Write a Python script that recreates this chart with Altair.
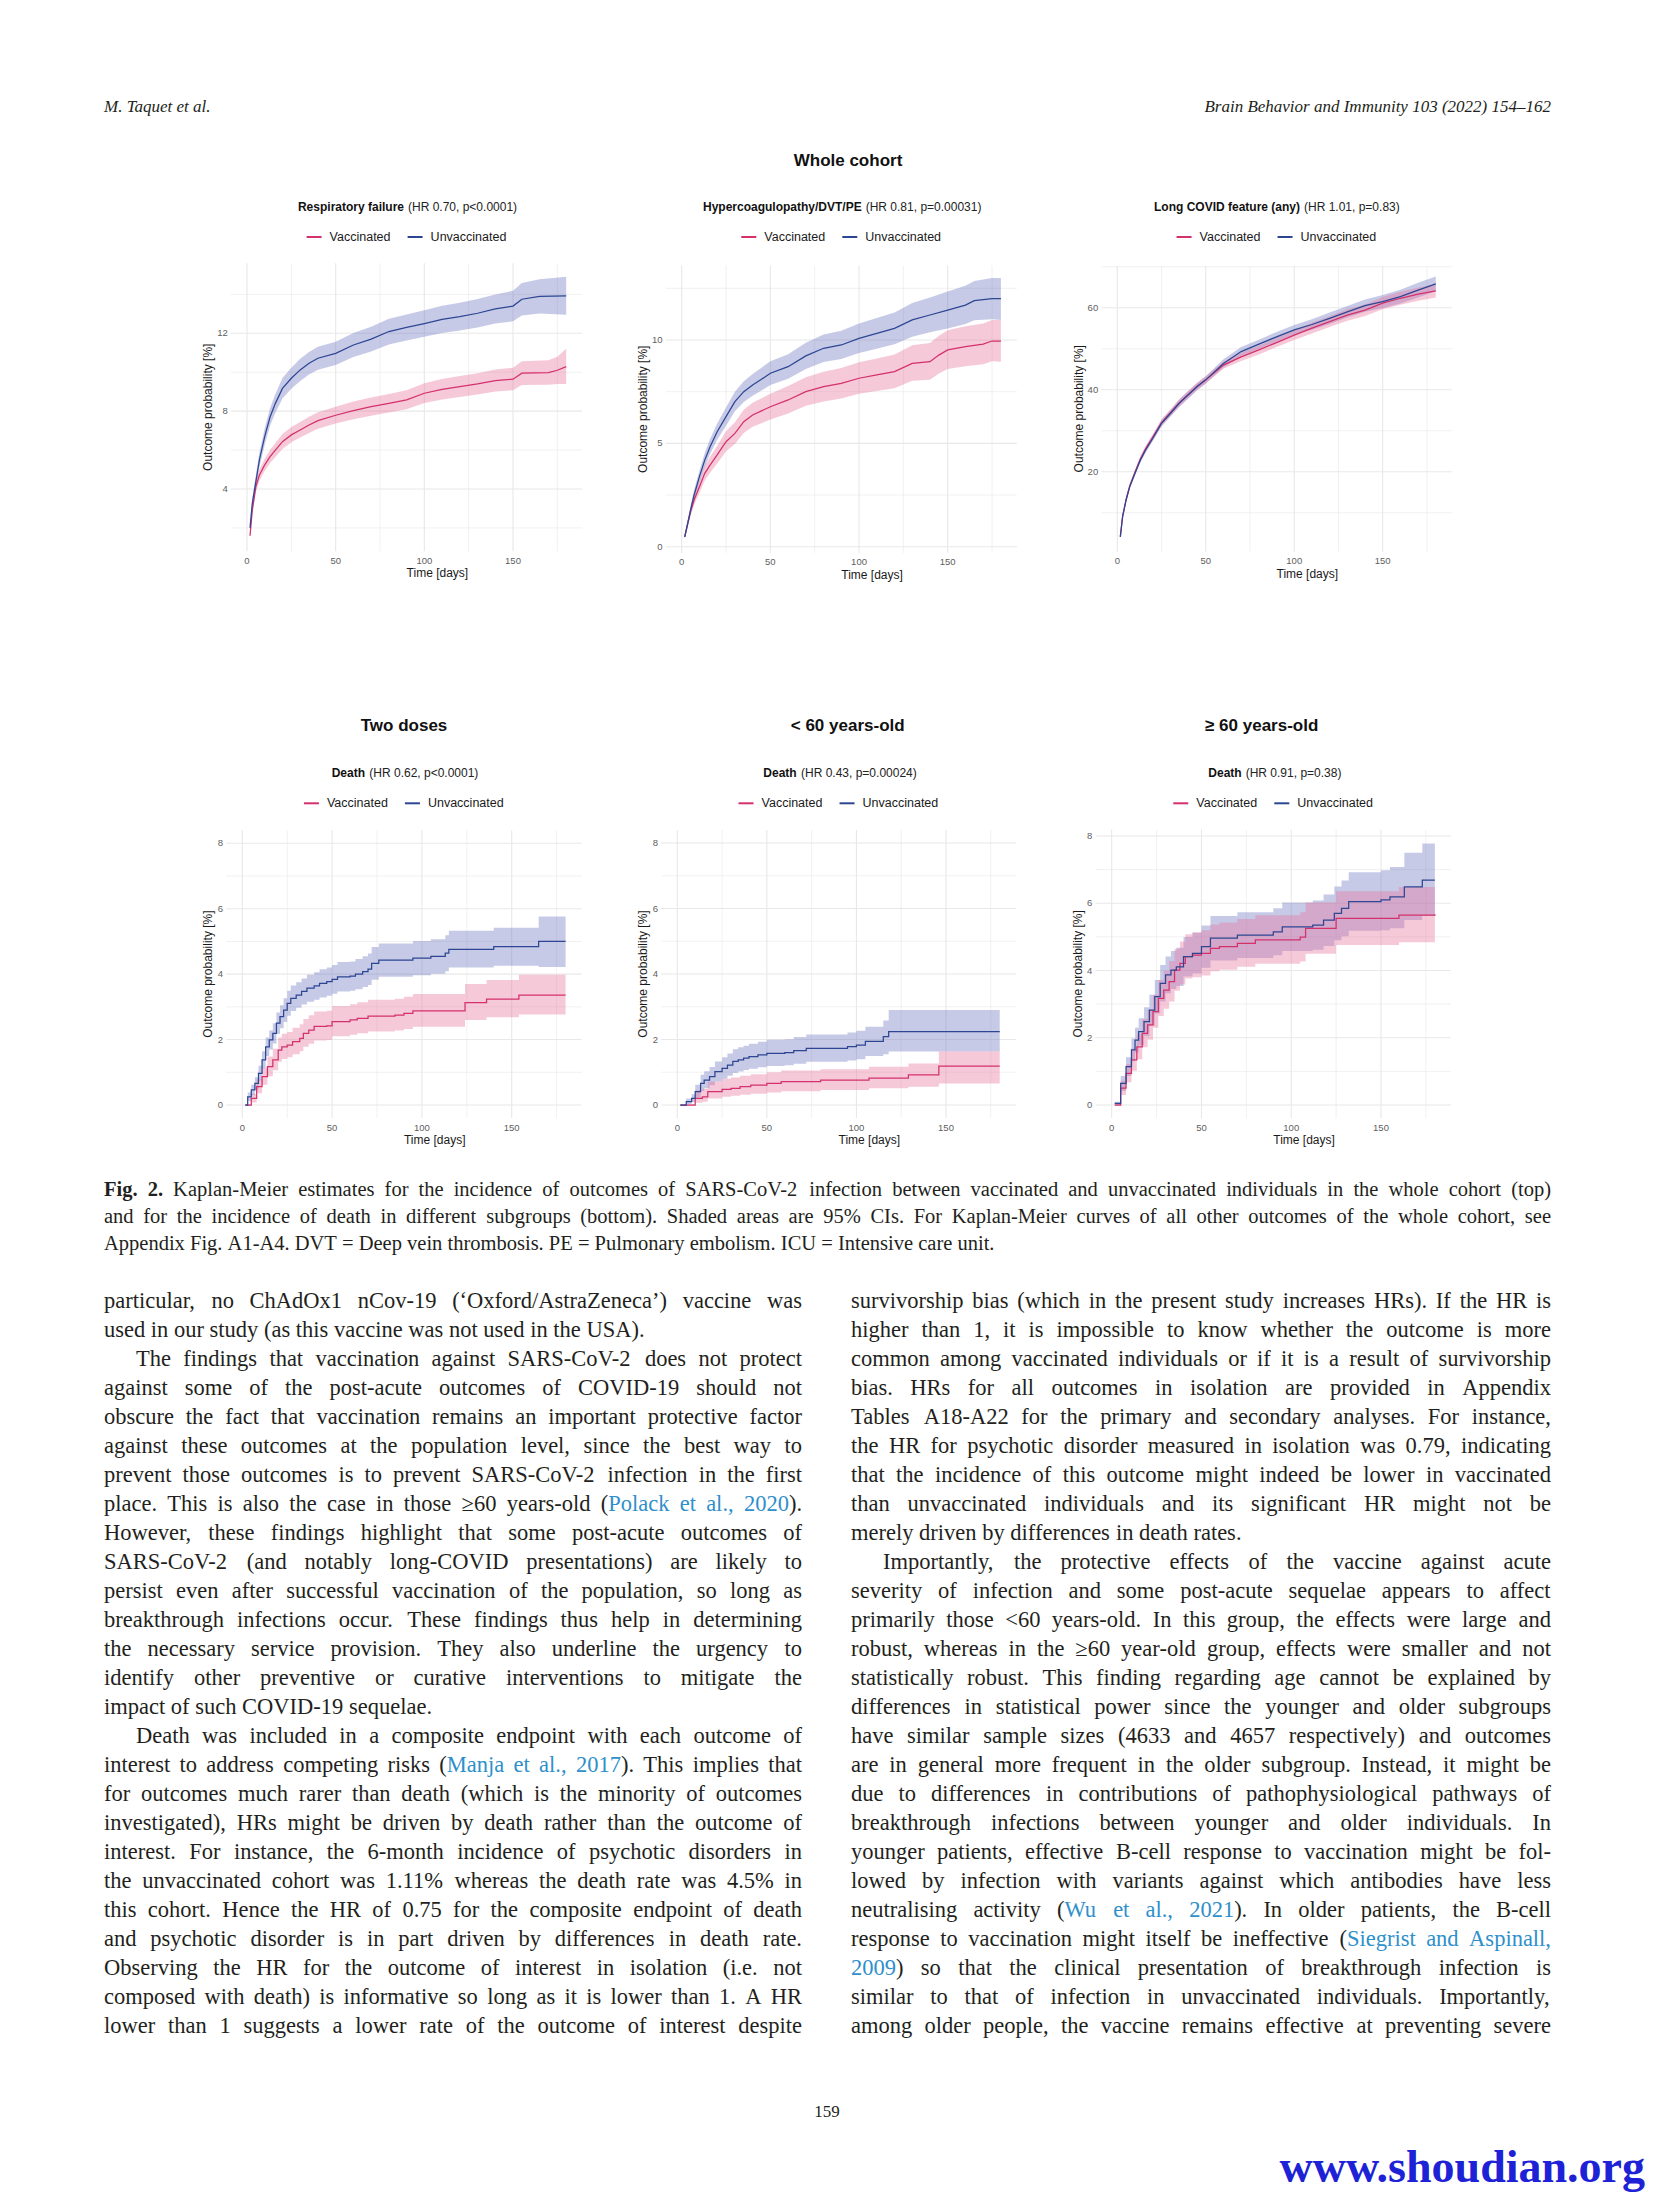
import altair as alt
import pandas as pd

OFF = 8.0
CW, CH = 1638, 2184
SANS = "Liberation Sans"
SERIF = "Liberation Serif"

GROUPS = ["Vaccinated", "Unvaccinated"]
LINE_COL = {"Vaccinated": "#D4306C", "Unvaccinated": "#2C4692"}
BAND_COL = {"Vaccinated": "#E8709A", "Unvaccinated": "#6B74BF"}
BAND_OP = 0.38
GRID = "#E8E8E8"
TICK_COL = "#5E5E5E"
TXT = "#1A1A1A"

X_MAJOR = [0, 50, 100, 150]
X_MINOR = [25, 75, 125, 175]
X_EXT = (-9, 189)

# ---------------- data ----------------
# Panel 1: Respiratory failure
resp_unv_t = [1.7,3,5,7,10,13,16,20,25,30,35,40,50,60,70,80,90,100,110,120,130,140,150,155,165,180]
resp_unv_est = [2.0,3.27,4.38,5.5,6.7,7.7,8.4,9.17,9.69,10.12,10.46,10.72,10.97,11.4,11.7,12.09,12.3,12.5,12.72,12.86,13.03,13.25,13.4,13.75,13.9,13.92]
resp_unv_lo = [1.8,3.0,4.05,5.12,6.28,7.25,7.92,8.65,9.15,9.55,9.88,10.13,10.37,10.78,11.06,11.43,11.63,11.82,12.02,12.15,12.3,12.5,12.62,12.92,13.02,12.95]
resp_unv_hi = [2.2,3.55,4.72,5.88,7.12,8.15,8.88,9.7,10.23,10.69,11.04,11.31,11.57,12.02,12.34,12.75,12.97,13.18,13.42,13.57,13.76,14.0,14.18,14.58,14.78,14.9]
resp_vac_t = [1.7,3,5,7,10,13,16,20,25,30,35,40,50,60,70,80,90,100,110,120,130,140,150,155,170,175,180]
resp_vac_est = [1.6,2.92,4.12,4.72,5.24,5.66,6.0,6.43,6.78,7.03,7.29,7.51,7.79,8.03,8.23,8.4,8.58,8.92,9.12,9.26,9.4,9.57,9.64,9.95,9.98,10.1,10.29]
resp_vac_lo = [1.45,2.7,3.85,4.43,4.93,5.33,5.65,6.06,6.4,6.64,6.88,7.09,7.36,7.58,7.77,7.93,8.1,8.42,8.6,8.73,8.86,9.01,9.07,9.35,9.36,9.4,9.4]
resp_vac_hi = [1.75,3.15,4.4,5.02,5.56,6.0,6.36,6.82,7.18,7.44,7.71,7.94,8.23,8.49,8.7,8.88,9.07,9.43,9.65,9.8,9.95,10.14,10.23,10.57,10.62,10.8,11.2]

# Panel 2: Hypercoagulopathy/DVT/PE
hyp_unv_t = [1.7,3,5,7,10,13,16,20,25,30,35,40,45,50,60,70,80,90,100,110,120,130,140,150,160,165,175,180]
hyp_unv_est = [0.48,0.97,1.77,2.5,3.39,4.19,4.84,5.56,6.29,7.02,7.5,7.82,8.1,8.39,8.71,9.23,9.6,9.76,10.08,10.32,10.56,10.97,11.21,11.45,11.69,11.9,12.0,12.0]
hyp_unv_lo = [0.38,0.82,1.56,2.25,3.1,3.86,4.48,5.17,5.85,6.55,7.0,7.3,7.56,7.82,8.12,8.6,8.94,9.08,9.37,9.58,9.8,10.16,10.37,10.56,10.78,10.95,11.0,10.97]
hyp_unv_hi = [0.6,1.13,1.99,2.76,3.68,4.53,5.21,5.96,6.74,7.5,8.0,8.35,8.66,8.97,9.31,9.87,10.27,10.45,10.8,11.07,11.33,11.79,12.06,12.35,12.62,12.85,13.0,13.0]
hyp_vac_t = [1.7,3,5,7,10,13,16,20,25,30,35,40,50,60,70,80,90,100,110,120,130,140,145,150,160,170,175,180]
hyp_vac_est = [0.48,0.97,1.7,2.26,2.9,3.55,3.95,4.44,5.08,5.48,6.05,6.37,6.77,7.1,7.5,7.74,7.9,8.15,8.31,8.47,8.87,8.95,9.27,9.52,9.68,9.8,9.95,9.95]
hyp_vac_lo = [0.38,0.83,1.5,2.02,2.6,3.2,3.58,4.03,4.62,4.97,5.5,5.8,6.15,6.45,6.82,7.03,7.17,7.4,7.53,7.67,8.03,8.08,8.38,8.6,8.73,8.83,8.97,8.95]
hyp_vac_hi = [0.6,1.12,1.92,2.52,3.22,3.92,4.35,4.88,5.58,6.02,6.62,6.97,7.4,7.77,8.2,8.47,8.65,8.92,9.11,9.3,9.74,9.85,10.2,10.47,10.66,10.8,10.97,10.97]

# Panel 3: Long COVID feature (any)
lc_t = [1.7,3,5,7,10,13,16,20,25,30,35,40,45,50,60,70,80,90,100,110,120,130,140,150,160,170,180]
lc_unv_est = [4.1,9.0,13.1,16.3,19.6,22.8,25.3,28.1,31.8,34.2,36.7,38.7,40.7,42.4,46.4,49.3,51.1,52.9,54.6,55.9,57.4,59.0,60.5,61.5,62.7,64.3,65.8]
lc_unv_lo = [3.8,8.6,12.6,15.8,19.0,22.2,24.6,27.4,31.0,33.4,35.8,37.8,39.8,41.5,45.4,48.2,50.0,51.7,53.4,54.6,56.0,57.6,59.0,59.9,61.0,62.5,64.0]
lc_unv_hi = [4.4,9.4,13.6,16.8,20.2,23.4,26.0,28.8,32.6,35.0,37.6,39.6,41.6,43.3,47.4,50.4,52.2,54.1,55.8,57.2,58.8,60.4,62.0,63.1,64.4,66.1,67.6]
lc_vac_est = [4.1,9.2,13.3,16.5,19.9,23.1,25.6,28.4,32.0,34.4,36.8,38.8,40.8,42.4,46.0,48.0,49.7,51.5,53.3,55.0,56.6,58.2,59.4,61.1,62.3,63.3,64.1]
lc_vac_lo = [3.8,8.8,12.8,16.0,19.3,22.5,24.9,27.7,31.2,33.6,35.9,37.9,39.9,41.5,45.1,47.0,48.6,50.4,52.1,53.7,55.3,56.8,58.0,59.6,60.7,61.7,62.5]
lc_vac_hi = [4.4,9.6,13.8,17.0,20.5,23.7,26.3,29.1,32.8,35.2,37.7,39.7,41.7,43.3,46.9,49.0,50.8,52.6,54.5,56.3,57.9,59.6,60.8,62.6,63.9,64.9,65.7]

# Panel 4: Death, two doses
two_unv_t = [1.7,3,5,7,9,11,13,15,17,19,21,23,25,27,30,33,36,40,43,47,50,53,60,63,67,70,72,76,95,105,113,115,140,165,180]
two_unv_est = [0.0,0.25,0.46,0.66,0.97,1.38,1.78,1.99,2.19,2.5,2.7,2.9,3.11,3.26,3.36,3.47,3.57,3.64,3.72,3.77,3.84,3.92,3.94,4.0,4.08,4.15,4.33,4.43,4.49,4.54,4.64,4.76,4.84,5.0,5.0]
two_unv_lo = [0.0,0.12,0.3,0.47,0.75,1.12,1.5,1.7,1.88,2.17,2.35,2.54,2.73,2.87,2.97,3.07,3.16,3.22,3.29,3.34,3.4,3.47,3.49,3.54,3.61,3.67,3.83,3.92,3.97,4.01,4.09,4.2,4.26,4.22,4.22]
two_unv_hi = [0.02,0.38,0.62,0.85,1.2,1.64,2.06,2.28,2.5,2.83,3.05,3.26,3.49,3.65,3.75,3.87,3.98,4.06,4.15,4.2,4.28,4.37,4.39,4.46,4.55,4.63,4.83,4.94,5.01,5.07,5.19,5.33,5.42,5.76,5.76]
two_vac_t = [1.7,5,8,11,14,17,20,22,25,28,32,34,37,40,47,50,60,64,70,85,90,95,124,136,154,180]
two_vac_est = [0.0,0.2,0.56,0.87,1.17,1.38,1.68,1.78,1.83,1.94,2.04,2.19,2.29,2.4,2.42,2.55,2.6,2.65,2.72,2.75,2.8,2.88,3.13,3.24,3.36,3.36]
two_vac_lo = [0.0,0.08,0.36,0.62,0.88,1.06,1.32,1.41,1.46,1.55,1.64,1.78,1.87,1.97,1.99,2.1,2.15,2.19,2.25,2.28,2.32,2.39,2.6,2.68,2.77,2.77]
two_vac_hi = [0.02,0.34,0.78,1.14,1.48,1.72,2.06,2.18,2.23,2.36,2.47,2.63,2.74,2.86,2.88,3.03,3.08,3.14,3.22,3.25,3.31,3.39,3.7,3.82,3.98,3.98]

# Panel 5: Death, < 60 years-old
yng_unv_t = [1.7,5,8,10,13,15,18,21,25,28,31,34,37,40,45,50,60,65,72,95,100,105,115,118,180]
yng_unv_est = [0.0,0.1,0.2,0.41,0.66,0.76,0.87,1.02,1.12,1.22,1.33,1.38,1.43,1.48,1.53,1.58,1.6,1.66,1.73,1.78,1.83,1.94,2.09,2.24,2.24]
yng_unv_lo = [0.0,0.03,0.09,0.23,0.43,0.51,0.6,0.72,0.8,0.89,0.98,1.02,1.07,1.11,1.15,1.19,1.21,1.26,1.32,1.36,1.4,1.5,1.55,1.63,1.63]
yng_unv_hi = [0.02,0.2,0.33,0.62,0.92,1.03,1.16,1.33,1.46,1.57,1.7,1.76,1.81,1.87,1.93,1.99,2.01,2.08,2.15,2.21,2.27,2.39,2.58,2.9,2.9]
yng_vac_t = [1.7,10,14,17,25,30,35,41,50,58,80,107,129,146,180]
yng_vac_est = [0.0,0.2,0.25,0.41,0.48,0.51,0.56,0.61,0.66,0.71,0.76,0.82,0.92,1.19,1.19]
yng_vac_lo = [0.0,0.07,0.1,0.2,0.25,0.28,0.31,0.34,0.38,0.42,0.46,0.51,0.56,0.66,0.66]
yng_vac_hi = [0.02,0.45,0.5,0.72,0.8,0.84,0.89,0.94,1.0,1.05,1.09,1.17,1.27,1.63,1.63]

# Panel 6: Death, >= 60 years-old
old_unv_t = [1.7,5,8,11,13,15,18,21,24,27,30,33,36,40,45,50,55,70,90,95,112,118,124,128,132,150,155,163,173,180]
old_unv_est = [0.05,0.64,1.14,1.64,1.93,2.18,2.48,2.82,3.22,3.62,3.87,4.01,4.11,4.41,4.51,4.71,4.96,5.05,5.15,5.3,5.35,5.5,5.7,5.85,6.05,6.1,6.19,6.49,6.69,6.69]
old_unv_lo = [0.0,0.42,0.86,1.3,1.56,1.78,2.05,2.36,2.72,3.08,3.32,3.45,3.54,3.82,3.91,4.08,4.3,4.37,4.45,4.58,4.62,4.73,4.9,5.02,5.18,5.2,5.26,5.5,5.62,5.62]
old_unv_hi = [0.1,0.86,1.42,1.98,2.3,2.58,2.91,3.28,3.72,4.16,4.42,4.58,4.68,5.0,5.12,5.34,5.62,5.73,5.85,6.02,6.08,6.26,6.5,6.68,6.92,6.98,7.08,7.5,7.78,7.78]
old_vac_t = [1.7,5,8,11,14,17,20,23,26,29,32,35,38,41,45,50,55,60,70,80,105,108,125,160,180]
old_vac_est = [0.0,0.5,0.94,1.34,1.73,2.13,2.38,2.78,3.17,3.42,3.67,4.01,4.21,4.41,4.46,4.51,4.66,4.71,4.81,4.91,4.99,5.25,5.55,5.65,5.67]
old_vac_lo = [0.0,0.3,0.68,1.02,1.36,1.72,1.94,2.3,2.65,2.86,3.08,3.4,3.58,3.76,3.8,3.85,3.98,4.02,4.11,4.2,4.27,4.5,4.76,4.84,4.84]
old_vac_hi = [0.05,0.72,1.22,1.68,2.12,2.56,2.84,3.28,3.72,3.99,4.28,4.65,4.86,5.08,5.14,5.2,5.37,5.43,5.53,5.64,5.73,6.02,6.36,6.48,6.54]

HEADERS = ["", "Whole cohort", "", "Two doses", "< 60 years-old", "\u2265 60 years-old"]
OUTCOMES = ["Respiratory failure", "Hypercoagulopathy/DVT/PE", "Long COVID feature (any)", "Death", "Death", "Death"]
STATS = ["(HR 0.70, p<0.0001)", "(HR 0.81, p=0.00031)", "(HR 1.01, p=0.83)",
         "(HR 0.62, p<0.0001)", "(HR 0.43, p=0.00024)", "(HR 0.91, p=0.38)"]
Y_MAJOR = [[4, 8, 12], [0, 5, 10], [20, 40, 60], [0, 2, 4, 6, 8], [0, 2, 4, 6, 8], [0, 2, 4, 6, 8]]
Y_MINOR = [[2, 6, 10, 14], [2.5, 7.5, 12.5], [10, 30, 50, 70], [1, 3, 5, 7], [1, 3, 5, 7], [1, 3, 5, 7]]
Y_LABELS = [["4", "8", "12"], ["0", "5", "10"], ["20", "40", "60"],
            ["0", "2", "4", "6", "8"], ["0", "2", "4", "6", "8"], ["0", "2", "4", "6", "8"]]
X_LABELS = ["0", "50", "100", "150"]
X_TITLE = "Time [days]"
Y_TITLE = "Outcome probability [%]"
INTERP = ["linear", "linear", "linear", "step-after", "step-after", "step-after"]

SERIES = [
    {"Vaccinated": (resp_vac_t, resp_vac_est, resp_vac_lo, resp_vac_hi),
     "Unvaccinated": (resp_unv_t, resp_unv_est, resp_unv_lo, resp_unv_hi)},
    {"Vaccinated": (hyp_vac_t, hyp_vac_est, hyp_vac_lo, hyp_vac_hi),
     "Unvaccinated": (hyp_unv_t, hyp_unv_est, hyp_unv_lo, hyp_unv_hi)},
    {"Vaccinated": (lc_t, lc_vac_est, lc_vac_lo, lc_vac_hi),
     "Unvaccinated": (lc_t, lc_unv_est, lc_unv_lo, lc_unv_hi)},
    {"Vaccinated": (two_vac_t, two_vac_est, two_vac_lo, two_vac_hi),
     "Unvaccinated": (two_unv_t, two_unv_est, two_unv_lo, two_unv_hi)},
    {"Vaccinated": (yng_vac_t, yng_vac_est, yng_vac_lo, yng_vac_hi),
     "Unvaccinated": (yng_unv_t, yng_unv_est, yng_unv_lo, yng_unv_hi)},
    {"Vaccinated": (old_vac_t, old_vac_est, old_vac_lo, old_vac_hi),
     "Unvaccinated": (old_unv_t, old_unv_est, old_unv_lo, old_unv_hi)},
]

# ---------------- page text ----------------
HEAD_LEFT = "M. Taquet et al."
HEAD_RIGHT = "Brain Behavior and Immunity 103 (2022) 154\u2013162"
PAGE_NO = "159"
WATERMARK = "www.shoudian.org"

CAPTION = [
    ("*Fig. 2.* Kaplan-Meier estimates for the incidence of outcomes of SARS-CoV-2 infection between vaccinated and unvaccinated individuals in the whole cohort (top)", True, 0),
    ("and for the incidence of death in different subgroups (bottom). Shaded areas are 95% CIs. For Kaplan-Meier curves of all other outcomes of the whole cohort, see", True, 0),
    ("Appendix Fig. A1-A4. DVT = Deep vein thrombosis. PE = Pulmonary embolism. ICU = Intensive care unit.", False, 0),
]

IND = 32
BODY_LEFT = [
    ("particular, no ChAdOx1 nCov-19 (\u2018Oxford/AstraZeneca\u2019) vaccine was", True, 0),
    ("used in our study (as this vaccine was not used in the USA).", False, 0),
    ("The findings that vaccination against SARS-CoV-2 does not protect", True, IND),
    ("against some of the post-acute outcomes of COVID-19 should not", True, 0),
    ("obscure the fact that vaccination remains an important protective factor", True, 0),
    ("against these outcomes at the population level, since the best way to", True, 0),
    ("prevent those outcomes is to prevent SARS-CoV-2 infection in the first", True, 0),
    ("place. This is also the case in those \u226560 years-old ({Polack et al., 2020}).", True, 0),
    ("However, these findings highlight that some post-acute outcomes of", True, 0),
    ("SARS-CoV-2 (and notably long-COVID presentations) are likely to", True, 0),
    ("persist even after successful vaccination of the population, so long as", True, 0),
    ("breakthrough infections occur. These findings thus help in determining", True, 0),
    ("the necessary service provision. They also underline the urgency to", True, 0),
    ("identify other preventive or curative interventions to mitigate the", True, 0),
    ("impact of such COVID-19 sequelae.", False, 0),
    ("Death was included in a composite endpoint with each outcome of", True, IND),
    ("interest to address competing risks ({Manja et al., 2017}). This implies that", True, 0),
    ("for outcomes much rarer than death (which is the minority of outcomes", True, 0),
    ("investigated), HRs might be driven by death rather than the outcome of", True, 0),
    ("interest. For instance, the 6-month incidence of psychotic disorders in", True, 0),
    ("the unvaccinated cohort was 1.11% whereas the death rate was 4.5% in", True, 0),
    ("this cohort. Hence the HR of 0.75 for the composite endpoint of death", True, 0),
    ("and psychotic disorder is in part driven by differences in death rate.", True, 0),
    ("Observing the HR for the outcome of interest in isolation (i.e. not", True, 0),
    ("composed with death) is informative so long as it is lower than 1. A HR", True, 0),
    ("lower than 1 suggests a lower rate of the outcome of interest despite", True, 0),
]
BODY_RIGHT = [
    ("survivorship bias (which in the present study increases HRs). If the HR is", True, 0),
    ("higher than 1, it is impossible to know whether the outcome is more", True, 0),
    ("common among vaccinated individuals or if it is a result of survivorship", True, 0),
    ("bias. HRs for all outcomes in isolation are provided in Appendix", True, 0),
    ("Tables A18-A22 for the primary and secondary analyses. For instance,", True, 0),
    ("the HR for psychotic disorder measured in isolation was 0.79, indicating", True, 0),
    ("that the incidence of this outcome might indeed be lower in vaccinated", True, 0),
    ("than unvaccinated individuals and its significant HR might not be", True, 0),
    ("merely driven by differences in death rates.", False, 0),
    ("Importantly, the protective effects of the vaccine against acute", True, IND),
    ("severity of infection and some post-acute sequelae appears to affect", True, 0),
    ("primarily those <60 years-old. In this group, the effects were large and", True, 0),
    ("robust, whereas in the \u226560 year-old group, effects were smaller and not", True, 0),
    ("statistically robust. This finding regarding age cannot be explained by", True, 0),
    ("differences in statistical power since the younger and older subgroups", True, 0),
    ("have similar sample sizes (4633 and 4657 respectively) and outcomes", True, 0),
    ("are in general more frequent in the older subgroup. Instead, it might be", True, 0),
    ("due to differences in contributions of pathophysiological pathways of", True, 0),
    ("breakthrough infections between younger and older individuals. In", True, 0),
    ("younger patients, effective B-cell response to vaccination might be fol-", True, 0),
    ("lowed by infection with variants against which antibodies have less", True, 0),
    ("neutralising activity ({Wu et al., 2021}). In older patients, the B-cell", True, 0),
    ("response to vaccination might itself be ineffective ({Siegrist and Aspinall,}", True, 0),
    ("{2009}) so that the clinical presentation of breakthrough infection is", True, 0),
    ("similar to that of infection in unvaccinated individuals. Importantly,", True, 0),
    ("among older people, the vaccine remains effective at preventing severe", True, 0),
]

# ---------------- geometry (page pixels) ----------------
GEOM = [
    dict(x0=247.0, x150=513.0, ya=(4, 489.0), yb=(12, 333.3), yext=(0.8, 15.6), ty=206.7, ly=237.0, hy=160.7,
         split=(404.0, 408.0), hx=None, ytdx=22.7),
    dict(x0=681.7, x150=947.7, ya=(0, 546.7), yb=(10, 340.0), yext=(-0.3, 13.6), ty=206.7, ly=237.0, hy=160.7,
         split=(861.7, 865.7), hx=848.0, ytdx=22.7),
    dict(x0=1117.3, x150=1382.7, ya=(20, 471.7), yb=(60, 307.7), yext=(0.5, 70.2), ty=206.7, ly=237.0, hy=160.7,
         split=(1300.0, 1304.0), hx=None, ytdx=22.7),
    dict(x0=242.3, x150=511.7, ya=(0, 1105.0), yb=(8, 843.3), yext=(-0.4, 8.4), ty=772.7, ly=803.3, hy=725.7,
         split=(365.0, 369.3), hx=404.0, ytdx=17.7),
    dict(x0=677.3, x150=946.0, ya=(0, 1105.0), yb=(8, 843.0), yext=(-0.4, 8.4), ty=772.7, ly=803.3, hy=725.7,
         split=(796.7, 801.0), hx=847.7, ytdx=17.7),
    dict(x0=1111.7, x150=1381.0, ya=(0, 1105.0), yb=(8, 836.0), yext=(-0.39, 8.19), ty=772.7, ly=803.3, hy=725.7,
         split=(1241.7, 1245.7), hx=1261.7, ytdx=17.7),
]


def xpx(g, v):
    return g["x0"] + v * (g["x150"] - g["x0"]) / 150.0


def ypx(g, v):
    (va, pa), (vb, pb) = g["ya"], g["yb"]
    return pa + (v - va) * (pb - pa) / (vb - va)


ann = []
rules = []


def add(x, y, text, fs, col=TXT, font=SANS, weight="normal", style="normal",
        align="left", baseline="middle", angle=0):
    ann.append(dict(x=x - OFF, y=y - OFF, text=text, fs=fs, col=col, font=font, weight=weight,
                    style=style, align=align, baseline=baseline, angle=angle))


layers = []


def panel(i):
    g = GEOM[i]
    xs = alt.Scale(domain=[0, 150], range=[g["x0"] - OFF, g["x150"] - OFF], zero=False, nice=False)
    ys = alt.Scale(domain=[g["ya"][0], g["yb"][0]], range=[g["ya"][1] - OFF, g["yb"][1] - OFF],
                   zero=False, nice=False)
    ylo, yhi = g["yext"]
    xlo, xhi = X_EXT
    L = []
    for ticks, sw in ((X_MINOR, 0.6), (X_MAJOR, 1.1)):
        df = pd.DataFrame({"v": ticks, "lo": ylo, "hi": yhi})
        L.append(alt.Chart(df).mark_rule(color=GRID, strokeWidth=sw).encode(
            x=alt.X("v:Q", scale=xs, axis=None),
            y=alt.Y("lo:Q", scale=ys, axis=None), y2="hi:Q"))
    for ticks, sw in ((Y_MINOR[i], 0.6), (Y_MAJOR[i], 1.1)):
        df = pd.DataFrame({"v": ticks, "lo": xlo, "hi": xhi})
        L.append(alt.Chart(df).mark_rule(color=GRID, strokeWidth=sw).encode(
            y=alt.Y("v:Q", scale=ys, axis=None),
            x=alt.X("lo:Q", scale=xs, axis=None), x2="hi:Q"))
    for grp in ["Unvaccinated", "Vaccinated"]:
        t, est, lo, hi = SERIES[i][grp]
        df = pd.DataFrame({"t": t, "lo": lo, "hi": hi})
        L.append(alt.Chart(df).mark_area(interpolate=INTERP[i], color=BAND_COL[grp],
                                          opacity=BAND_OP).encode(
            x=alt.X("t:Q", scale=xs, axis=None),
            y=alt.Y("lo:Q", scale=ys, axis=None), y2="hi:Q"))
    for grp in ["Vaccinated", "Unvaccinated"]:
        t, est, lo, hi = SERIES[i][grp]
        df = pd.DataFrame({"t": t, "est": est})
        L.append(alt.Chart(df).mark_line(interpolate=INTERP[i], color=LINE_COL[grp],
                                          strokeWidth=1.25).encode(
            x=alt.X("t:Q", scale=xs, axis=None),
            y=alt.Y("est:Q", scale=ys, axis=None)))
    left = xpx(g, xlo)
    right = xpx(g, xhi)
    bottom = ypx(g, ylo)
    top = ypx(g, yhi)
    cx = (left + right) / 2
    dfx = pd.DataFrame({"v": X_MAJOR, "lab": X_LABELS})
    L.append(alt.Chart(dfx).mark_text(font=SANS, fontSize=9.5, color=TICK_COL, align="center",
                                      baseline="middle").encode(
        x=alt.X("v:Q", scale=xs, axis=None), y=alt.value(bottom + 9.5 - OFF), text="lab:N"))
    dfy = pd.DataFrame({"v": Y_MAJOR[i], "lab": Y_LABELS[i]})
    L.append(alt.Chart(dfy).mark_text(font=SANS, fontSize=9.5, color=TICK_COL, align="right",
                                      baseline="middle").encode(
        y=alt.Y("v:Q", scale=ys, axis=None), x=alt.value(left - 3.2 - OFF), text="lab:N"))
    add(cx, bottom + 22.2, X_TITLE, 12)
    add(left - g["ytdx"], (top + bottom) / 2, Y_TITLE, 12, align="center", angle=270)
    if HEADERS[i]:
        add(g["hx"], g["hy"], HEADERS[i], 17, col="#111111", weight="bold", align="center")
    add(g["split"][0], g["ty"], OUTCOMES[i], 12, col="#111111", weight="bold", align="right")
    add(g["split"][1], g["ty"], STATS[i], 12, col="#222222", align="left")
    ly = g["ly"]
    rules.append(dict(x=cx - 100 - OFF, x2=cx - 85 - OFF, y=ly - OFF, col=LINE_COL[GROUPS[0]]))
    rules.append(dict(x=cx + 1 - OFF, x2=cx + 16 - OFF, y=ly - OFF, col=LINE_COL[GROUPS[1]]))
    add(cx - 77, ly, GROUPS[0], 12.5)
    add(cx + 24, ly, GROUPS[1], 12.5)
    return L


for i in range(6):
    layers.extend(panel(i))

# ---------------- text layout (Times / Liberation Serif metrics) ----------------
TW = {' ': 250, '!': 333, '"': 408, '#': 500, '$': 500, '%': 833, '&': 778, "'": 180, '(': 333, ')': 333,
      '*': 500, '+': 564, ',': 250, '-': 333, '.': 250, '/': 278, ':': 278, ';': 278, '<': 564, '=': 564,
      '>': 564, '?': 444, '@': 921, '[': 333, ']': 333,
      'A': 722, 'B': 667, 'C': 667, 'D': 722, 'E': 611, 'F': 556, 'G': 722, 'H': 722, 'I': 333, 'J': 389,
      'K': 722, 'L': 611, 'M': 889, 'N': 722, 'O': 722, 'P': 556, 'Q': 722, 'R': 667, 'S': 556, 'T': 611,
      'U': 722, 'V': 722, 'W': 944, 'X': 722, 'Y': 722, 'Z': 611,
      'a': 444, 'b': 500, 'c': 444, 'd': 500, 'e': 444, 'f': 333, 'g': 500, 'h': 500, 'i': 278, 'j': 278,
      'k': 500, 'l': 278, 'm': 778, 'n': 500, 'o': 500, 'p': 500, 'q': 500, 'r': 333, 's': 389, 't': 278,
      'u': 500, 'v': 500, 'w': 722, 'x': 500, 'y': 500, 'z': 444,
      '\u2018': 333, '\u2019': 333, '\u2013': 500, '\u2265': 549, '\u2264': 549}
TWB = {'F': 611, 'i': 278, 'g': 500, '.': 250, '2': 500, ' ': 250}


def cw(ch, bold):
    if bold and ch in TWB:
        return TWB[ch]
    w = TW.get(ch, 500)
    return w * 1.05 if bold else w


def tw(s, fs, bold=False):
    return sum(cw(c, bold) for c in s) * fs / 1000.0


def parse(line):
    chars = []
    link = False
    bold = False
    for ch in line:
        if ch == '{':
            link = True
            continue
        if ch == '}':
            link = False
            continue
        if ch == '*':
            bold = not bold
            continue
        chars.append((ch, (link, bold)))
    words, cur = [], []
    for ch, st in chars:
        if ch == ' ':
            if cur:
                words.append(cur)
                cur = []
        else:
            cur.append((ch, st))
    if cur:
        words.append(cur)
    out = []
    for w in words:
        runs = []
        for ch, st in w:
            if runs and runs[-1][1] == st:
                runs[-1][0] += ch
            else:
                runs.append([ch, st])
        out.append(runs)
    return out


def word_w(word, fs):
    return sum(tw(t, fs, st[1]) for t, st in word)


BODY_COL = "#231F20"
LINK_COL = "#2F8FCB"


def lay(lines, x0, x1, y0, dy, fmax, min_gap=0.17):
    for i, (text, just, ind) in enumerate(lines):
        y = y0 + i * dy
        words = parse(text)
        left = x0 + ind
        avail = x1 - left
        fs = fmax
        if just and len(words) > 1:
            em = sum(word_w(w, 1.0) for w in words)
            fs = min(fmax, avail / (em + (len(words) - 1) * min_gap))
        ws = [word_w(w, fs) for w in words]
        if just and len(words) > 1:
            gap = (avail - sum(ws)) / (len(words) - 1)
        else:
            gap = 0.25 * fs
        x = left
        for w, wd in zip(words, ws):
            xx = x
            for t, (lk, bd) in w:
                add(xx, y, t, fs, col=LINK_COL if lk else BODY_COL, font=SERIF,
                    weight="bold" if bd else "normal", baseline="alphabetic")
                xx += tw(t, fs, bd)
            x += wd + gap


COL_L = (104.0, 802.0)
COL_R = (851.0, 1551.0)
lay(CAPTION, 104.0, 1551.0, 1196.0, 27.0, 20.5)
lay(BODY_LEFT, COL_L[0], COL_L[1], 1308.0, 29.0, 22.5)
lay(BODY_RIGHT, COL_R[0], COL_R[1], 1308.0, 29.0, 22.5)

add(104.0, 112.0, HEAD_LEFT, 17, col=BODY_COL, font=SERIF, style="italic", baseline="alphabetic")
add(1551.0, 112.0, HEAD_RIGHT, 17, col=BODY_COL, font=SERIF, style="italic", align="right",
    baseline="alphabetic")
add(827.0, 2117.0, PAGE_NO, 17, col=BODY_COL, font=SERIF, align="center", baseline="alphabetic")
add(1645.0, 2182.0, WATERMARK, 46, col="#1E22D6", font=SERIF, weight="bold", align="right",
    baseline="alphabetic")

dfr = pd.DataFrame(rules)
layers.append(alt.Chart(dfr).mark_rule(strokeWidth=2.0).encode(
    x=alt.X("x:Q", scale=None, axis=None), x2="x2:Q",
    y=alt.Y("y:Q", scale=None, axis=None),
    color=alt.Color("col:N", scale=None, legend=None)))

dfa = pd.DataFrame(ann)
keys = ["font", "weight", "style", "align", "baseline", "angle"]
for k, sub in dfa.groupby(keys):
    font, weight, style, align, baseline, angle = k
    d = sub[["x", "y", "text", "fs", "col"]].reset_index(drop=True)
    layers.append(alt.Chart(d).mark_text(font=font, fontWeight=weight, fontStyle=style, align=align,
                                         baseline=baseline, angle=int(angle)).encode(
        x=alt.X("x:Q", scale=None, axis=None),
        y=alt.Y("y:Q", scale=None, axis=None),
        text="text:N",
        size=alt.Size("fs:Q", scale=None, legend=None),
        color=alt.Color("col:N", scale=None, legend=None)))

chart = alt.layer(*layers).resolve_scale(
    x="independent", y="independent", color="independent", size="independent"
).properties(
    width=CW, height=CH, padding=0, background="white",
    autosize=alt.AutoSizeParams(type="none")
).configure_view(stroke=None)

chart.save("out.html", embed_options={"renderer": "svg", "actions": False})
